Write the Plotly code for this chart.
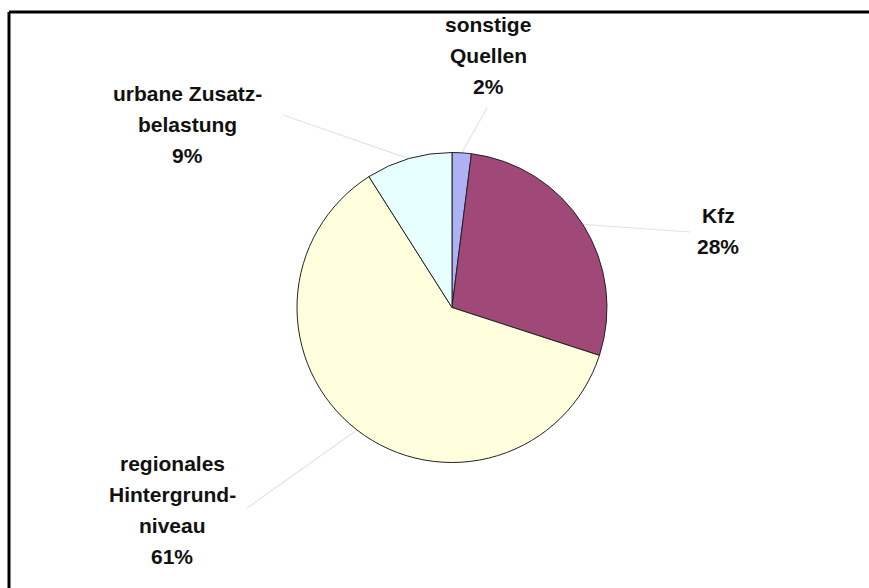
import math
import plotly.graph_objects as go

# Source shares of the pollution load (percent), clockwise from 12 o'clock
labels = ["sonstige Quellen", "Kfz", "regionales Hintergrundniveau", "urbane Zusatzbelastung"]
values = [2, 28, 61, 9]
label_lines = [["sonstige", "Quellen"], ["Kfz"], ["regionales", "Hintergrund-", "niveau"],
               ["urbane Zusatz-", "belastung"]]
colors = ["#AEB2F5", "#A04878", "#FFFFDD", "#E8FFFF"]

W, H = 869, 588
CX, CY, R = 452, 307.5, 155  # pie centre and radius in pixels

# label block positions: centre x, first baseline y (pixels)
label_pos = [(488, 31), (718, 223), (172, 470), (187, 100)]
# where each leader line ends near its label (pixels)
leader_end = [(487, 108), (690, 232), (247, 508), (283, 115)]

FONT = "Liberation Sans, Arial, sans-serif"
FSIZE = 21
LINE_H = 31


def px(x):
    return x / W


def py(y):
    return 1 - y / H


fig = go.Figure(go.Pie(
    labels=labels,
    values=values,
    sort=False,
    direction="clockwise",
    rotation=0,
    textinfo="none",
    hoverinfo="label+percent",
    marker=dict(colors=colors, line=dict(color="#222222", width=1)),
    domain=dict(x=[px(CX - R), px(CX + R)], y=[py(CY + R), py(CY - R)]),
    showlegend=False,
))

total = sum(values)
annotations = []
shapes = []
cum = 0.0
for i, v in enumerate(values):
    mid = (cum + v / 2) / total * 2 * math.pi
    cum += v
    # leader line from the slice's outer edge towards its label
    sx = CX + R * math.sin(mid)
    sy = CY - R * math.cos(mid)
    ex, ey = leader_end[i]
    shapes.append(dict(type="line", xref="paper", yref="paper",
                       x0=px(sx), y0=py(sy), x1=px(ex), y1=py(ey),
                       line=dict(color="#E4E4E4", width=1.2), layer="below"))
    lines = label_lines[i] + [f"{round(v / total * 100)}%"]
    lx, ly = label_pos[i]
    for k, t in enumerate(lines):
        annotations.append(dict(
            text=f"<b>{t}</b>", xref="paper", yref="paper",
            x=px(lx), y=py(ly + k * LINE_H - 7), xanchor="center", yanchor="middle",
            showarrow=False, font=dict(family=FONT, size=FSIZE, color="#111111")))

# frame lines along the top and left edges
shapes.append(dict(type="line", xref="paper", yref="paper", x0=px(9), y0=py(12), x1=1.0, y1=py(12),
                   line=dict(color="black", width=3)))
shapes.append(dict(type="line", xref="paper", yref="paper", x0=px(9), y0=py(12), x1=px(9), y1=0.0,
                   line=dict(color="black", width=3)))

fig.update_layout(
    width=W, height=H,
    margin=dict(l=0, r=0, t=0, b=0),
    paper_bgcolor="white",
    plot_bgcolor="white",
    annotations=annotations,
    shapes=shapes,
)

fig.write_html("out.html")
